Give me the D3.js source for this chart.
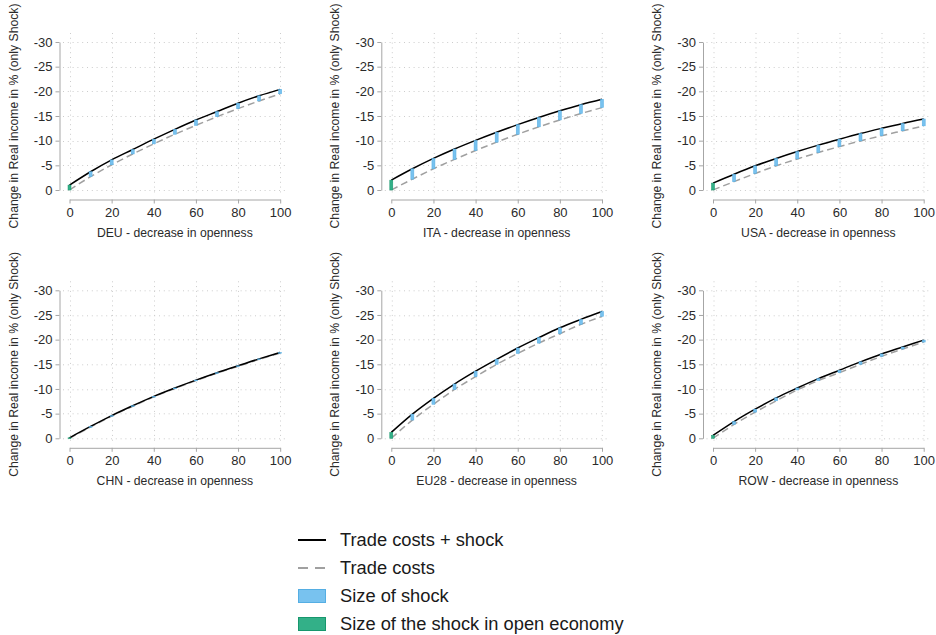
<!DOCTYPE html>
<html><head><meta charset="utf-8">
<script src="https://cdn.jsdelivr.net/npm/d3@7"></script>
<style>
html,body{margin:0;padding:0;background:#fff;}
svg{display:block;font-family:"Liberation Sans",Arial,Helvetica,sans-serif;}
</style></head>
<body>
<svg id="chart" width="936" height="635"></svg>
<script>
// ---- data ----
const openness = [0, 10, 20, 30, 40, 50, 60, 70, 80, 90, 100];
const countries = ["DEU", "ITA", "USA", "CHN", "EU28", "ROW"];
const yTicks = [0, -5, -10, -15, -20, -25, -30];
const xTicks = [0, 20, 40, 60, 80, 100];

// Trade costs + shock (solid black)
const deuShock  = [-1.0, -3.7, -6.1, -8.2, -10.3, -12.3, -14.2, -15.9, -17.6, -19.1, -20.4];
const itaShock  = [-2.0, -4.3, -6.4, -8.3, -10.05, -11.7, -13.25, -14.7, -16.05, -17.3, -18.4];
const usaShock  = [-1.4, -3.2, -4.9, -6.4, -7.8, -9.1, -10.3, -11.45, -12.5, -13.5, -14.4];
const chnShock  = [-0.1, -2.4, -4.6, -6.6, -8.5, -10.2, -11.8, -13.3, -14.7, -16.1, -17.4];
const eu28Shock = [-1.2, -4.9, -8.1, -11.0, -13.6, -16.0, -18.3, -20.4, -22.4, -24.1, -25.7];
const rowShock  = [-0.6, -3.4, -5.9, -8.2, -10.2, -12.1, -13.8, -15.5, -17.1, -18.5, -19.9];

// Trade costs (dashed gray)
const deuCosts  = [0, -2.7, -5.1, -7.3, -9.35, -11.3, -13.1, -14.85, -16.5, -18.05, -19.5];
const itaCosts  = [0, -2.2, -4.3, -6.2, -8.0, -9.7, -11.3, -12.8, -14.2, -15.5, -16.7];
const usaCosts  = [0, -1.7, -3.35, -4.9, -6.3, -7.6, -8.8, -9.95, -11.0, -12.0, -13.0];
const chnCosts  = [0, -2.3, -4.5, -6.5, -8.4, -10.1, -11.7, -13.2, -14.6, -16.0, -17.3];
const eu28Costs = [0, -3.7, -6.9, -9.9, -12.5, -15.0, -17.2, -19.3, -21.2, -23.1, -24.7];
const rowCosts  = [0, -2.8, -5.3, -7.6, -9.8, -11.7, -13.3, -15.0, -16.6, -18.1, -19.5];

const legendLabels = ["Trade costs + shock", "Trade costs", "Size of shock", "Size of the shock in open economy"];

// ---- build ----
const shockSeries = [deuShock, itaShock, usaShock, chnShock, eu28Shock, rowShock];
const costSeries = [deuCosts, itaCosts, usaCosts, chnCosts, eu28Costs, rowCosts];

const BLUE_FILL = "#78c2ef", BLUE_STROKE = "#55aee3";
const GREEN_FILL = "#33b088", GREEN_STROKE = "#17976d";

const svg = d3.select("#chart");
const colX = [0, 321.8, 643.5];
const rowY = [0, 248.3];

countries.forEach((c, i) => {
  const cx = colX[i % 3], ry = rowY[Math.floor(i / 3)];
  const g = svg.append("g").attr("transform", `translate(${cx},${ry})`);
  const x = d3.scaleLinear().domain([0, 100]).range([69.5, 280.2]);
  const y = d3.scaleLinear().domain([0, -30]).range([190, 42]);

  // grid
  const grid = g.append("g").attr("stroke", "#cccccc").attr("stroke-width", 1)
    .attr("stroke-dasharray", "1,3.8").attr("fill", "none");
  grid.selectAll("line.h").data(yTicks).join("line").attr("class", "h")
    .attr("x1", 63).attr("x2", 287)
    .attr("y1", d => Math.round(y(d)) + 0.5).attr("y2", d => Math.round(y(d)) + 0.5);
  grid.selectAll("line.v").data(xTicks).join("line").attr("class", "v")
    .attr("y1", 33).attr("y2", 194)
    .attr("x1", d => Math.round(x(d)) + 0.5).attr("x2", d => Math.round(x(d)) + 0.5);

  // axes
  const yAxis = g.append("g").attr("transform", "translate(59.5,0)")
    .call(d3.axisLeft(y).tickValues(yTicks).tickFormat(d => String(d)).tickSize(4).tickSizeOuter(0).tickPadding(3));
  const xAxis = g.append("g").attr("transform", "translate(0,199.5)")
    .call(d3.axisBottom(x).tickValues(xTicks).tickFormat(d => String(d)).tickSize(4).tickSizeOuter(0).tickPadding(4));
  [yAxis, xAxis].forEach(a => {
    a.select(".domain").attr("stroke", "#a6a6a6");
    a.selectAll(".tick line").attr("stroke", "#a6a6a6");
    a.selectAll(".tick text").attr("fill", "#2a2a2a").style("font-size", "13px")
      .style("font-family", '"Liberation Sans",Arial,sans-serif');
  });

  // titles
  g.append("text").attr("x", (x(0) + x(100)) / 2).attr("y", 236.5)
    .attr("text-anchor", "middle").attr("fill", "#2a2a2a").style("font-size", "12.2px")
    .text(`${c} - decrease in openness`);
  g.append("text").attr("transform", `translate(17.5,${(y(0) + y(-30)) / 2}) rotate(-90)`)
    .attr("text-anchor", "middle").attr("fill", "#2a2a2a").style("font-size", "12.2px")
    .text("Change in Real income in % (only Shock)");

  const pts = openness.map((o, k) => ({ o, s: shockSeries[i][k], t: costSeries[i][k] }));
  const lineS = d3.line().x(d => x(d.o)).y(d => y(d.s)).curve(d3.curveMonotoneX);
  const lineT = d3.line().x(d => x(d.o)).y(d => y(d.t)).curve(d3.curveMonotoneX);

  g.append("path").attr("d", lineT(pts)).attr("fill", "none")
    .attr("stroke", "#a0a0a0").attr("stroke-width", 1.5).attr("stroke-dasharray", "7,4");
  g.append("path").attr("d", lineS(pts)).attr("fill", "none")
    .attr("stroke", "#000").attr("stroke-width", 1.5);

  // bars: span between trade costs and trade costs + shock
  g.selectAll("rect.bar").data(pts).join("rect").attr("class", "bar")
    .attr("x", d => x(d.o) - 1.5).attr("width", 3)
    .attr("y", d => y(Math.min(d.s, d.t)))
    .attr("height", d => Math.max(0.8, Math.abs(y(d.s) - y(d.t))))
    .attr("fill", d => d.o === 0 ? GREEN_FILL : BLUE_FILL)
    .attr("stroke", d => d.o === 0 ? GREEN_STROKE : BLUE_STROKE).attr("stroke-width", 0.5);
});

// legend
const lg = svg.append("g");
const ly = [540, 568, 596, 624];
lg.append("line").attr("x1", 298).attr("x2", 326).attr("y1", ly[0]).attr("y2", ly[0])
  .attr("stroke", "#000").attr("stroke-width", 2);
lg.append("line").attr("x1", 298).attr("x2", 326).attr("y1", ly[1]).attr("y2", ly[1])
  .attr("stroke", "#a0a0a0").attr("stroke-width", 2).attr("stroke-dasharray", "10,7");
lg.append("rect").attr("x", 298.5).attr("y", ly[2] - 6.5).attr("width", 27).attr("height", 13)
  .attr("fill", BLUE_FILL).attr("stroke", BLUE_STROKE).attr("stroke-width", 1);
lg.append("rect").attr("x", 298.5).attr("y", ly[3] - 6.5).attr("width", 27).attr("height", 13)
  .attr("fill", GREEN_FILL).attr("stroke", GREEN_STROKE).attr("stroke-width", 1);
lg.selectAll("text").data(legendLabels).join("text")
  .attr("x", 340).attr("y", (d, k) => ly[k]).attr("dy", "0.35em")
  .attr("fill", "#1a1a1a").style("font-size", "18.3px").text(d => d);
</script>
</body></html>
